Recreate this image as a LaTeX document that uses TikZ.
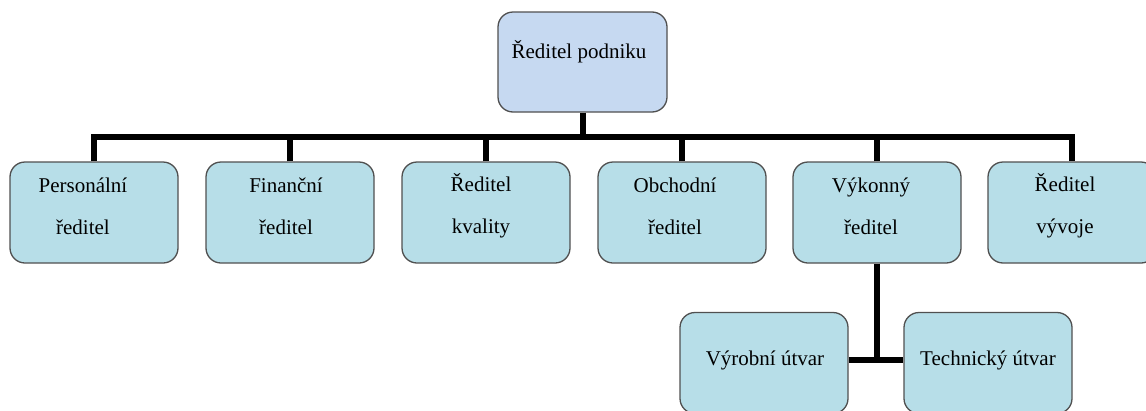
\documentclass[tikz,border=0pt]{standalone}
\usepackage{fontspec}
\setmainfont{Liberation Serif}
\definecolor{topfill}{RGB}{198,217,241}
\definecolor{boxfill}{RGB}{183,222,232}
\definecolor{boxline}{RGB}{80,80,80}
\begin{document}
\begin{tikzpicture}[x=1pt,y=-1pt,
  orgbox/.style={draw=boxline,line width=1.3pt,rounded corners=15pt,
    fill=boxfill,minimum width=168pt,minimum height=101pt,inner sep=0pt},
  topbox/.style={orgbox,fill=topfill,minimum width=169pt,minimum height=100pt},
  label/.style={align=center,inner sep=0pt,font=\fontsize{21}{42}\selectfont},
  link/.style={line width=6pt,black}]
\useasboundingbox (0,0) rectangle (1146,410);

% boxes
\node[topbox] (top) at (582.5,62) {};
\node[orgbox] (b1) at (94,212.5) {};
\node[orgbox] (b2) at (290,212.5) {};
\node[orgbox] (b3) at (486,212.5) {};
\node[orgbox] (b4) at (682,212.5) {};
\node[orgbox] (b5) at (877,212.5) {};
\node[orgbox] (b6) at (1072,212.5) {};
\node[orgbox] (v1) at (764,363) {};
\node[orgbox] (v2) at (988,363) {};

% texts
\node[label] (ttop) at (579,52) {Ředitel podniku};
\node[label] (t1) at (83,206) {Personální\\ředitel};
\node[label] (t2) at (286,206) {Finanční\\ředitel};
\node[label] (t3) at (481,206) {Ředitel\\kvality};
\node[label] (t4) at (675,206) {Obchodní\\ředitel};
\node[label] (t5) at (871,206) {Výkonný\\ředitel};
\node[label] (t6) at (1065,206) {Ředitel\\vývoje};
\node[label] (tv1) at (765,360) {Výrobní útvar};
\node[label] (tv2) at (988,360) {Technický útvar};

% connectors
\coordinate (bus) at (0,137);
\draw[link] (b1.north) -- (b1.north |- bus) -- (b6.north |- bus) -- (b6.north);
\draw[link] (top.south) -- (top.south |- bus);
\foreach \b in {b2,b3,b4,b5}
  \draw[link] (\b.north) -- (\b.north |- bus);
\coordinate (split) at (0,360);
\draw[link] (b5.south) -- (b5.south |- split);
\draw[link] (v1.east |- split) -- (v2.west |- split);
\end{tikzpicture}
\end{document}
